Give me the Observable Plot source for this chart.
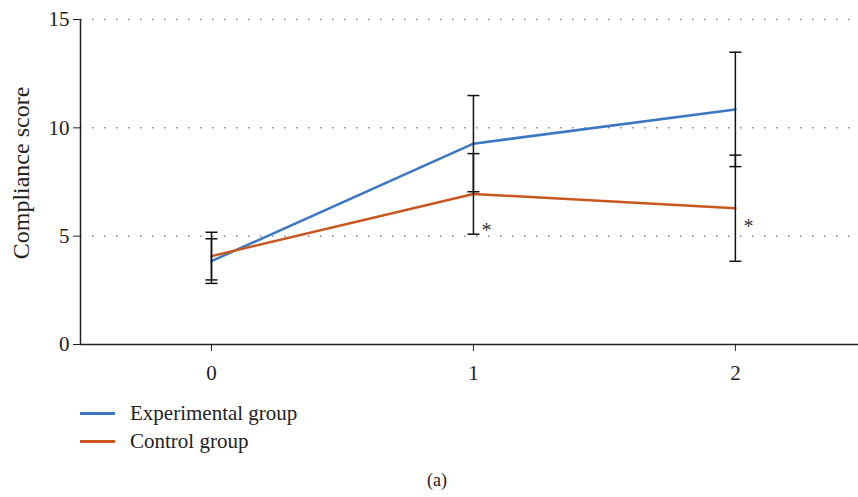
<!DOCTYPE html>
<html>
<head>
<meta charset="utf-8">
<script src="https://cdn.jsdelivr.net/npm/d3@7"></script>
<script src="https://cdn.jsdelivr.net/npm/@observablehq/plot@0.6"></script>
<style>
  body { margin: 0; background: #fff; font-family: "Liberation Serif", "DejaVu Serif", serif; }
  #chart svg { display: block; }
  #legend { position: relative; height: 112px; width: 858px; }
  .leg { position: absolute; left: 80px; height: 28px; display: flex; align-items: center; font-size: 21px; color: #222; }
  .leg span.sw { display: inline-block; width: 35px; height: 3px; margin-right: 15px; }
  #caption { position: absolute; left: 0; width: 874px; text-align: center; top: 85px; font-size: 18px; line-height: 21px; color: #222; }
</style>
</head>
<body>
<div id="chart"></div>
<div id="legend">
  <div class="leg" style="top:14px"><span class="sw" style="background:#3b77c2"></span><span>Experimental group</span></div>
  <div class="leg" style="top:42px"><span class="sw" style="background:#c9561e"></span><span>Control group</span></div>
  <div id="caption">(a)</div>
</div>
<script>
const timePoints = [0, 1, 2];
const seriesNames = ["Experimental group", "Control group"];
const experimentalMean = [3.85, 9.27, 10.85];
const experimentalSD = [1.03, 2.22, 2.64];
const controlMean = [4.08, 6.95, 6.29];
const controlSD = [1.1, 1.86, 2.45];
const starX = [1, 2];
const starY = [5.3, 5.5];
const yTicks = [0, 5, 10, 15];
const colors = ["#3b77c2", "#c9561e"];

const rows = [];
timePoints.forEach((t, i) => {
  rows.push({series: seriesNames[0], x: t, y: experimentalMean[i], lo: experimentalMean[i] - experimentalSD[i], hi: experimentalMean[i] + experimentalSD[i]});
  rows.push({series: seriesNames[1], x: t, y: controlMean[i], lo: controlMean[i] - controlSD[i], hi: controlMean[i] + controlSD[i]});
});
const caps = rows.flatMap(d => [{x: d.x, y: d.lo}, {x: d.x, y: d.hi}]);
const stars = starX.map((x, i) => ({x, y: starY[i]}));

const capSymbol = {
  draw(context, size) {
    const r = Math.sqrt(size / Math.PI);
    context.moveTo(-r, 0);
    context.lineTo(r, 0);
  }
};

const chart = Plot.plot({
  width: 858,
  height: 385,
  marginLeft: 80,
  marginRight: 0,
  marginTop: 19,
  marginBottom: 41,
  style: {fontFamily: "Liberation Serif, DejaVu Serif, serif", color: "#222", background: "#fff"},
  x: {domain: [-0.5, 2.47], label: null},
  y: {domain: [0, 15], label: null},
  color: {domain: seriesNames, range: colors},
  marks: [
    Plot.gridY(yTicks.filter(v => v > 0), {stroke: "#888", strokeOpacity: 1, strokeWidth: 1.5, strokeDasharray: "1.5,10.5"}),
    Plot.axisX({ticks: timePoints, tickSize: 7, tickPadding: 14, tickFormat: d => String(d), stroke: "#222", label: null}),
    Plot.axisY({ticks: yTicks, tickSize: 7, tickPadding: 4, stroke: "#222", label: null}),
    Plot.ruleY([0], {stroke: "#222", strokeWidth: 1.5}),
    Plot.ruleX([-0.5], {stroke: "#222", strokeWidth: 1.5}),
    Plot.text(["Compliance score"], {frameAnchor: "left", textAnchor: "middle", dx: -59, dy: -9, rotate: -90, fill: "#222"}),
    Plot.line(rows, {x: "x", y: "y", stroke: "series", strokeWidth: 2.5, z: "series"}),
    Plot.ruleX(rows, {x: "x", y1: "lo", y2: "hi", stroke: "#111", strokeWidth: 1.5}),
    Plot.dot(caps, {x: "x", y: "y", r: 6, symbol: capSymbol, stroke: "#111", strokeWidth: 1.5, fill: "none"}),
    Plot.text(stars, {x: "x", y: "y", text: () => "*", dx: 13, dy: 1, fill: "#333"})
  ]
});
chart.querySelectorAll("text").forEach(t => {
  const s = t.textContent;
  if (s === "Compliance score") t.style.fontSize = "24px";
  else if (s === "*") t.style.fontSize = "20px";
  else t.style.fontSize = "21px";
});
document.getElementById("chart").appendChild(chart);
</script>
</body>
</html>
